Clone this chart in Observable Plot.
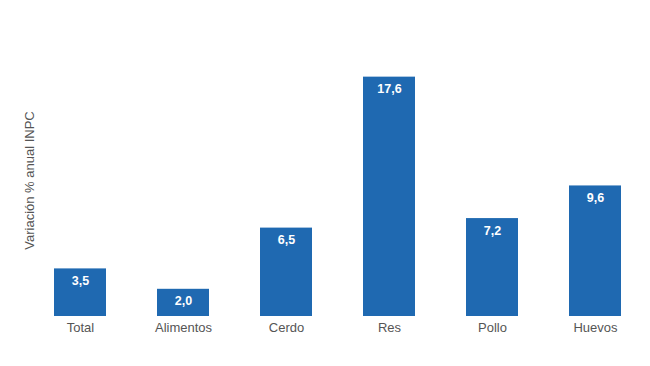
<!DOCTYPE html>
<html><head><meta charset="utf-8">
<script src="https://cdn.jsdelivr.net/npm/d3@7"></script>
<script src="https://cdn.jsdelivr.net/npm/@observablehq/plot@0.6"></script>
<style>body{margin:0;background:#fff;font-family:"Liberation Sans",Arial,sans-serif}</style>
</head><body><div id="chart"></div>
<script>
const categories = ["Total", "Alimentos", "Cerdo", "Res", "Pollo", "Huevos"];
const values = [3.5, 2.0, 6.5, 17.6, 7.2, 9.6];
const yLabel = "Variación % anual INPC";
const data = categories.map((c, i) => ({cat: c, v: values[i]}));
const fmt = v => v.toFixed(1).replace(".", ",");
const chart = Plot.plot({
  width: 650, height: 366,
  marginLeft: 28, marginRight: 3, marginTop: 44, marginBottom: 50,
  style: {fontFamily: '"Liberation Sans", Arial, sans-serif', background: "#fff"},
  x: {domain: categories, paddingInner: 0.5, paddingOuter: 0.25, label: null},
  y: {domain: [0, 20], axis: null},
  marks: [
    Plot.barY(data, {x: "cat", y: "v", fill: "#1f69b1"}),
    Plot.text(data, {x: "cat", y: "v", text: d => fmt(d.v), dy: 12, fill: "white", fontWeight: "bold", fontSize: 12.5}),
    Plot.axisX({tickSize: 0, tickPadding: 6, fontSize: 13, color: "#555", label: null}),
    Plot.text([yLabel], {frameAnchor: "left", dx: 1, rotate: -90, fontSize: 13, fill: "#555", textAnchor: "middle"})
  ]
});
document.getElementById("chart").appendChild(chart);
</script></body></html>
